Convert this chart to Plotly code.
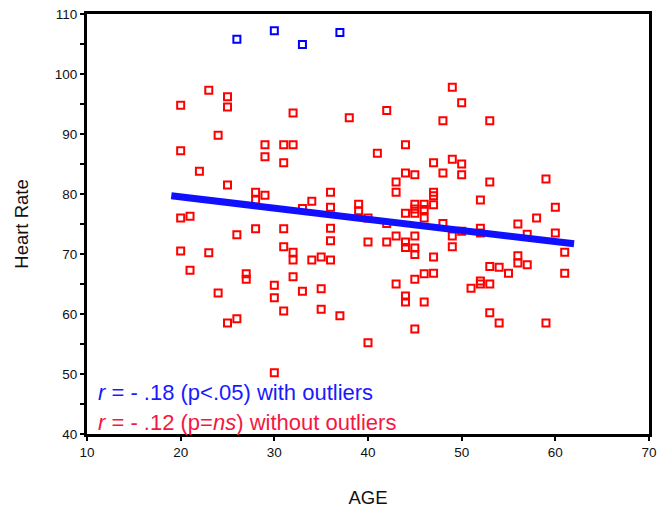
import plotly.graph_objects as go

# Outliers (blue)
out_age = [26, 30, 33, 37]
out_hr = [105.8, 107.2, 104.9, 106.9]

# Main sample (red)
age = [23, 25, 20, 25, 32, 38, 24, 29, 31, 32, 20, 41, 29, 31, 22, 25, 28, 29, 28, 36,
       34, 36, 39, 39, 33, 20, 21, 40,
       49, 50, 42, 48, 53, 44, 47, 49, 50, 44, 45, 48, 50, 43, 53, 59, 43, 47, 47, 52,
       45, 46, 47, 45, 46, 44, 45, 60, 58, 46,
       26, 28, 31, 36, 36, 40, 20, 23, 31, 32, 32, 34, 35, 36, 21, 27, 27, 32, 24, 30,
       30, 33, 35, 31, 35, 37, 26, 25, 40, 30,
       42, 48, 49, 50, 52, 52, 56, 57, 60, 43, 45, 42, 44, 44, 45, 45, 49, 47, 61, 56,
       56, 57, 53, 54, 55, 61, 46, 47, 45, 43, 52, 52, 53, 51, 44, 44, 46, 53, 54, 59, 45]
hr = [97.3, 96.2, 94.8, 94.5, 93.5, 92.7, 89.8, 88.2, 88.2, 88.2, 87.2, 86.8, 86.2, 85.2,
      83.8, 81.5, 80.3, 79.8, 79.0, 80.3, 78.8, 77.8, 78.3, 77.2, 77.6, 76.0, 76.3, 76.0,
      97.8, 95.2, 93.9, 92.2, 92.2, 88.2, 85.2, 85.8, 85.0, 83.5, 83.2, 83.5, 83.2, 82.0,
      82.0, 82.5, 80.3, 80.3, 79.7, 79.0, 78.3, 78.3, 78.2, 77.5, 77.4, 76.8, 76.8, 77.8,
      76.0, 76.0,
      73.2, 74.2, 74.2, 74.3, 72.2, 72.0, 70.5, 70.2, 71.2, 70.3, 69.0, 69.0, 69.5, 69.0,
      67.3, 66.7, 65.8, 66.2, 63.5, 64.8, 62.7, 63.8, 64.2, 60.5, 60.8, 59.7, 59.2, 58.5,
      55.2, 50.2,
      75.1, 75.1, 73.0, 73.8, 74.3, 73.5, 75.0, 73.3, 73.5, 73.0, 73.0, 72.0, 72.0, 71.1,
      71.0, 69.9, 71.2, 69.5, 70.3, 69.7, 68.5, 68.2, 67.9, 67.8, 66.8, 66.8, 66.7, 66.8,
      65.8, 65.0, 65.5, 65.0, 65.0, 64.3, 63.0, 62.0, 62.0, 60.2, 58.5, 58.5, 57.5]

# Regression line (with outliers)
fit_age = [19, 62]
fit_hr = [79.7, 71.7]

x_ticks = [10, 20, 30, 40, 50, 60, 70]
y_ticks = [40, 50, 60, 70, 80, 90, 100, 110]

FONT = "Liberation Sans, Arial, sans-serif"

fig = go.Figure()
fig.add_trace(go.Scatter(x=age, y=hr, mode="markers",
                         marker=dict(symbol="square-open", size=7, color="#ff0000",
                                     line=dict(width=2, color="#ff0000")),
                         cliponaxis=False, showlegend=False))
fig.add_trace(go.Scatter(x=out_age, y=out_hr, mode="markers",
                         marker=dict(symbol="square-open", size=7, color="#0000ff",
                                     line=dict(width=2, color="#0000ff")),
                         cliponaxis=False, showlegend=False))
fig.add_trace(go.Scatter(x=fit_age, y=fit_hr, mode="lines",
                         line=dict(color="#1010ff", width=7),
                         showlegend=False))

fig.add_annotation(x=11.0, y=46.9, xref="x", yref="y", xanchor="left", yanchor="middle",
                   text="<i>r</i> = - .18 (p&lt;.05) with outliers", showarrow=False,
                   font=dict(family=FONT, size=22, color="#1a1aff"))
fig.add_annotation(x=11.0, y=41.9, xref="x", yref="y", xanchor="left", yanchor="middle",
                   text="<i>r</i> = - .12 (p=<i>ns</i>) without outliers", showarrow=False,
                   font=dict(family=FONT, size=22, color="#f5173f"))

axis_common = dict(showgrid=False, zeroline=False, showline=True, linecolor="black",
                   linewidth=3, mirror=True, ticks="outside", ticklen=4, tickwidth=2,
                   tickcolor="black", automargin=False, ticklabeloverflow="allow",
                   tickfont=dict(family=FONT, size=13.5, color="#111"))

fig.update_xaxes(range=[10, 70], tickvals=x_ticks,
                 title=dict(text="AGE", font=dict(family=FONT, size=18.5, color="#111"), standoff=32),
                 **axis_common)
fig.update_yaxes(range=[40, 110], tickvals=y_ticks,
                 minor=dict(dtick=5, ticks="outside", ticklen=4, tickwidth=2, tickcolor="black"),
                 title=dict(text="Heart Rate", font=dict(family=FONT, size=18.5, color="#111"), standoff=22),
                 **axis_common)

# The page body adds an 8px offset; size and margins compensate for it.
fig.update_layout(width=663, height=502, margin=dict(l=79, r=22, t=6, b=76),
                  plot_bgcolor="white", paper_bgcolor="white",
                  font=dict(family=FONT))

fig.write_html("out.html")
